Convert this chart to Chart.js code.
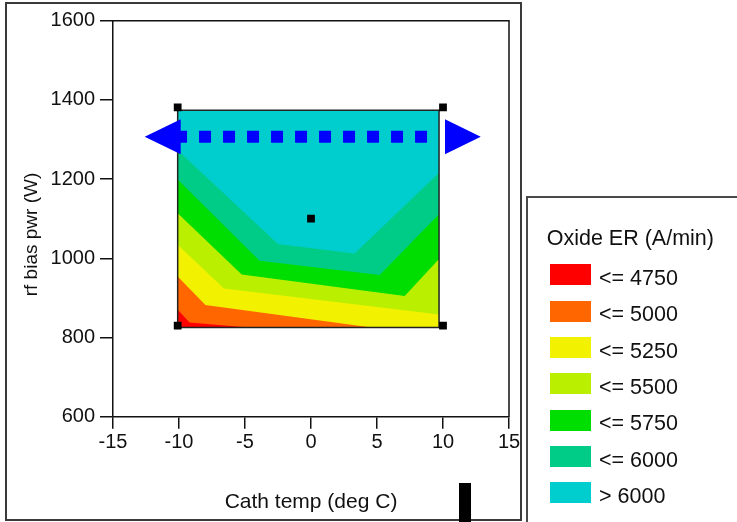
<!DOCTYPE html>
<html>
<head>
<meta charset="utf-8">
<title>Oxide ER contour</title>
<script src="https://cdn.jsdelivr.net/npm/chart.js@4.4.1/dist/chart.umd.min.js"></script>
<style>
  html, body { margin: 0; padding: 0; background: #fff; }
  body { width: 737px; height: 522px; overflow: hidden; position: relative;
         font-family: "Liberation Sans", Arial, sans-serif; color: #111; }
  #frame { position: absolute; left: 5px; top: 2px; width: 513px; height: 515px; border: 2px solid #3a3a3a; }
  #chartBox { position: absolute; left: 0; top: 0; width: 737px; height: 522px; }
  #legend { position: absolute; left: 526px; top: 196px; width: 260px; height: 400px; border: 2px solid #4a4a4a; }
  .ttl, .lbl { position: absolute; font-size: 21.5px; line-height: 21px; white-space: nowrap; }
  .sw { position: absolute; width: 41px; height: 21px; }
  #mark { position: absolute; left: 459px; top: 483px; width: 12px; height: 40px; background: #000; }
</style>
</head>
<body>
<div id="frame"></div>
<div id="chartBox"><canvas id="er_chart" width="737" height="522"></canvas></div>
<div id="legend"></div>
<div id="mark"></div>
<script>
// axes
const xTicks = [-15, -10, -5, 0, 5, 10, 15];
const yTicks = [600, 800, 1000, 1200, 1400, 1600];

// design box (cath temp x rf bias pwr)
const regionX = [-10.1, 9.7];
const regionY = [825, 1374];
const designPoints = [[-10.1, 1381], [10, 1381], [-10.1, 830], [10, 830]];
const centerPoint = [[0, 1100]];

// contour levels, lowest first
const levels = ['<= 4750', '<= 5000', '<= 5250', '<= 5500', '<= 5750', '<= 6000', '> 6000'];
const bandColors = ['#ff0000', '#ff6600', '#f2f200', '#baf000', '#00dd00', '#00cc88', '#00cece'];

// upper edge of each band (x, rf bias pwr)
const edge4750 = [[-10.1, 870], [-9.2, 838], [-4.75, 825]];
const edge5000 = [[-10.1, 954], [-8.0, 882], [4.6, 825]];
const edge5250 = [[-10.1, 1034], [-6.6, 924], [9.7, 858]];
const edge5500 = [[-10.1, 1114], [-5.25, 959], [7.1, 905], [9.7, 998]];
const edge5750 = [[-10.1, 1199], [-3.9, 994], [5.2, 958], [9.7, 1111]];
const edge6000 = [[-10.1, 1273], [-2.5, 1036], [3.3, 1012], [9.7, 1216]];
const edges = [edge4750, edge5000, edge5250, edge5500, edge5750, edge6000];

// blue double arrow at the rf bias pwr setting
const arrowY = 1307;
const arrowDots = [[-10.3, arrowY], [8.8, arrowY]];
const arrowLeft = [[-12.6, arrowY], [-9.87, 1351], [-9.87, 1263]];
const arrowRight = [[12.86, arrowY], [10.15, 1351], [10.15, 1263]];

const fam = '"Liberation Sans", Arial, sans-serif';

function pts(list) { return list.map(p => ({x: p[0], y: p[1]})); }
function closed(list) { return pts(list.concat([list[0]])); }
function below(edge) {
  return closed(edge.concat([[regionX[1], regionY[0]], [regionX[0], regionY[0]]]));
}
const boxOutline = [[regionX[0], regionY[0]], [regionX[0], regionY[1]], [regionX[1], regionY[1]], [regionX[1], regionY[0]]];

// lowest band first: lower dataset index is painted on top
const bandSets = edges.map((e, i) => ({
  data: below(e), fill: 'shape', backgroundColor: bandColors[i],
  borderColor: 'transparent', borderWidth: 0, pointRadius: 0
}));
bandSets.push({
  data: closed(boxOutline), fill: 'shape', backgroundColor: bandColors[6],
  borderColor: 'transparent', borderWidth: 0, pointRadius: 0
});

const datasets = [
  { data: pts(centerPoint), showLine: false, pointStyle: 'rect', pointRadius: 5.5, backgroundColor: '#000', borderWidth: 0 },
  { data: pts(designPoints), showLine: false, pointStyle: 'rect', pointRadius: 5.5, backgroundColor: '#000', borderWidth: 0 },
  { data: closed(arrowLeft), fill: 'shape', backgroundColor: '#0000ff', borderColor: 'transparent', borderWidth: 0, pointRadius: 0 },
  { data: closed(arrowRight), fill: 'shape', backgroundColor: '#0000ff', borderColor: 'transparent', borderWidth: 0, pointRadius: 0 },
  { data: pts(arrowDots), borderColor: '#0000ff', borderWidth: 12, borderDash: [12, 12], borderCapStyle: 'butt', pointRadius: 0, fill: false },
  { data: closed(boxOutline), borderColor: '#222', borderWidth: 1.5, pointRadius: 0, fill: false }
].concat(bandSets);

const boxFrame = {
  id: 'boxFrame',
  afterDraw(chart) {
    const {ctx, chartArea: a} = chart;
    ctx.save();
    ctx.strokeStyle = '#111';
    ctx.lineWidth = 1.5;
    ctx.beginPath();
    ctx.moveTo(a.left, a.top);
    ctx.lineTo(a.right, a.top);
    ctx.lineTo(a.right, a.bottom);
    ctx.stroke();
    ctx.restore();
  }
};

new Chart(document.getElementById('er_chart').getContext('2d'), {
  type: 'line',
  data: { datasets: datasets },
  plugins: [boxFrame],
  options: {
    responsive: false,
    animation: false,
    events: [],
    layout: { padding: { left: 7, top: 20.7, right: 228, bottom: 0 } },
    elements: { line: { tension: 0 } },
    plugins: { legend: { display: false }, tooltip: { enabled: false } },
    scales: {
      x: {
        type: 'linear',
        min: xTicks[0],
        max: xTicks[xTicks.length - 1],
        afterBuildTicks: s => { s.ticks = xTicks.map(v => ({value: v})); },
        afterFit: s => { s.height = 105.3; },
        ticks: { color: '#111', font: { size: 20, family: fam }, padding: 2, maxRotation: 0, autoSkip: false,
                 callback: v => String(v) },
        grid: { drawOnChartArea: false, drawTicks: true, tickLength: 12, color: '#111', lineWidth: 1.5 },
        border: { color: '#111', width: 1.5 },
        title: { display: true, text: 'Cath temp (deg C)', color: '#111', font: { size: 21, family: fam },
                 padding: { top: 0, bottom: 7 } }
      },
      y: {
        type: 'linear',
        min: yTicks[0],
        max: yTicks[yTicks.length - 1],
        afterBuildTicks: s => { s.ticks = yTicks.map(v => ({value: v})); },
        afterFit: s => { s.width = 106; },
        ticks: { color: '#111', font: { size: 20, family: fam }, padding: 5, autoSkip: false,
                 callback: v => String(v) },
        grid: { drawOnChartArea: false, drawTicks: true, tickLength: 13, color: '#111', lineWidth: 1.5 },
        border: { color: '#111', width: 1.5 },
        title: { display: true, text: 'rf bias pwr (W)      ', color: '#111', font: { size: 19, family: fam },
                 padding: { top: 13, bottom: 0 } }
      }
    }
  }
});

// legend box
const legend = document.getElementById('legend');
const ttl = document.createElement('div');
ttl.className = 'ttl';
ttl.style.left = '18.7px';
ttl.style.top = '29.5px';
ttl.textContent = 'Oxide ER (A/min)';
legend.appendChild(ttl);
levels.forEach((lab, i) => {
  const sw = document.createElement('div');
  sw.className = 'sw';
  sw.style.left = '22px';
  sw.style.top = (66.3 + 36.3 * i) + 'px';
  sw.style.background = bandColors[i];
  legend.appendChild(sw);
  const tx = document.createElement('div');
  tx.className = 'lbl';
  tx.style.left = '71px';
  tx.style.top = (70.1 + 36.3 * i) + 'px';
  tx.textContent = lab;
  legend.appendChild(tx);
});
</script>
</body>
</html>
